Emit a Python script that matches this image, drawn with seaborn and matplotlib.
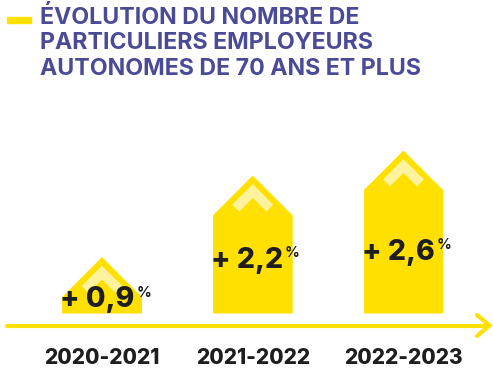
import matplotlib
matplotlib.use("Agg")
import matplotlib.pyplot as plt
import seaborn as sns
import pandas as pd
from matplotlib.patches import Polygon, Rectangle
from matplotlib.lines import Line2D

# data read from the infographic
periodes = ["2020-2021", "2021-2022", "2022-2023"]
evolution = [0.9, 2.2, 2.6]
etiquettes = ["+ 0,9", "+ 2,2", "+ 2,6"]
titre = "ÉVOLUTION DU NOMBRE DE\nPARTICULIERS EMPLOYEURS\nAUTONOMES DE 70 ANS ET PLUS"

JAUNE = "#FFE000"
JAUNE_CLAIR = "#FFF29E"
VIOLET = "#4A4A97"
NOIR = "#1E1E1E"

sns.set_theme(style="white")
plt.rcParams["font.family"] = ["Inter", "DejaVu Sans"]

W, H = 493, 371
fig = plt.figure(figsize=(W / 100, H / 100), dpi=100)
base = 313.5  # pixel row of the bar bottoms
ax = fig.add_axes([0, (H - base) / H, 1, (base - 100) / H])

df = pd.DataFrame({"periode": periodes, "evolution": evolution})
sns.barplot(data=df, x="periode", y="evolution", color=JAUNE, saturation=1,
            width=0.53, linewidth=0, ax=ax, zorder=2)

ax.set_xlim(-0.677, 2.594)
ax.set_ylim(0, 3.405)
pxx = W / (2.594 + 0.677)
pxy = (base - 100) / 3.405

# house shaped bars: clip each seaborn bar with a pentagon
for bar in ax.patches:
    x0, w, h = bar.get_x(), bar.get_width(), bar.get_height()
    cx = x0 + w / 2
    roof = (w / 2) * pxx / pxy
    shape = Polygon([(x0, 0), (x0 + w, 0), (x0 + w, h - roof), (cx, h), (x0, h - roof)],
                    closed=True, transform=ax.transData)
    bar.set_clip_path(shape)
    top = h - 15.5 / pxy
    ax.plot([cx - 17 / pxx, cx, cx + 17 / pxx], [top - 17 / pxy, top, top - 17 / pxy],
            color=JAUNE_CLAIR, lw=7, solid_capstyle="butt", solid_joinstyle="miter", zorder=3)

for bar, val, lab in zip(ax.patches, evolution, etiquettes):
    y = 0.33 * val if val > 1.5 else 0.1
    t = ax.text(bar.get_x() - 2 / pxx, y, lab, fontsize=20.5, fontweight="heavy",
                color=NOIR, ha="left", va="baseline", zorder=4)
    ax.annotate("%", xy=(1, 1), xycoords=t, xytext=(1.5, 0.5), textcoords="offset points",
                fontsize=10.5, fontweight="bold", color=NOIR, ha="left", va="top", zorder=4)

ax.set_xticks(range(len(periodes)))
ax.set_xticklabels(periodes, fontsize=15, fontweight="heavy", color=NOIR)
ax.tick_params(axis="x", length=0, pad=25)
ax.set_yticks([])
ax.set_xlabel("")
ax.set_ylabel("")
sns.despine(ax=ax, left=True, bottom=True)
ax.patch.set_alpha(0)

# timeline arrow under the bars
ya = 1 - 325.5 / H
fig.add_artist(Line2D([7 / W, 488 / W], [ya, ya], color=JAUNE, lw=3, transform=fig.transFigure))
fig.add_artist(Line2D([477 / W, 489.5 / W, 477 / W], [1 - 315 / H, ya, 1 - 336 / H],
                      color=JAUNE, lw=3, solid_joinstyle="miter", transform=fig.transFigure))

# title with yellow dash
fig.text(40 / W, 1 - 6 / H, titre, ha="left", va="top", fontsize=16.7, fontweight="bold",
         color=VIOLET, linespacing=1.2)
fig.add_artist(Rectangle((7 / W, 1 - 23 / H), 24 / W, 6 / H, color=JAUNE,
                         transform=fig.transFigure))

fig.savefig("out.png", dpi=100)
